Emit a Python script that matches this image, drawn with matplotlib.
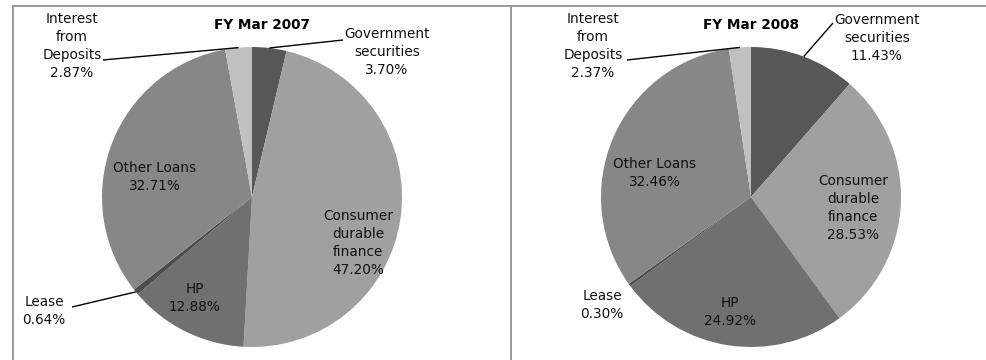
import numpy as np
import matplotlib
matplotlib.use("Agg")
import matplotlib.pyplot as plt
from matplotlib.lines import Line2D

# ---- data ----
categories = ["Government\nsecurities", "Consumer\ndurable\nfinance", "HP", "Lease",
              "Other Loans", "Interest\nfrom\nDeposits"]
titles = ["FY Mar 2007", "FY Mar 2008"]
values_2007 = [3.70, 47.20, 12.88, 0.64, 32.71, 2.87]
values_2008 = [11.43, 28.53, 24.92, 0.30, 32.46, 2.37]
colors = ["#575757", "#a0a0a0", "#707070", "#4d4d4d", "#878787", "#c0c0c0"]

W, H = 987, 360
fig = plt.figure(figsize=(W / 100, H / 100), dpi=100)
ax = fig.add_axes([0, 0, 1, 1])
ax.set_xlim(0, W)
ax.set_ylim(0, H)
ax.axis("off")

def Y(y):
    return H - y

FS = 9.8

# panel layout: center (px), radius, label positions (px), leader start (px or None)
panels = [
    dict(values=values_2007, title=titles[0], cx=252, cy=197, r=150, tx=262,
         labels=[(387, 52, (343, 40)), (358, 243, None), (195, 298, None),
                 (44, 311, (72, 307)), (155, 177, None), (72, 46, (103, 60))]),
    dict(values=values_2008, title=titles[1], cx=751, cy=197, r=150, tx=751,
         labels=[(877, 38, (833, 23)), (853, 208, None), (730, 312, None),
                 (602, 305, None), (655, 173, None), (593, 46, (627, 60))]),
]

for p in panels:
    wedges, _ = ax.pie(p["values"], colors=colors, startangle=90, counterclock=False,
                       center=(p["cx"], Y(p["cy"])), radius=p["r"],
                       wedgeprops=dict(linewidth=0), frame=True)
    ax.text(p["tx"], Y(25), p["title"], ha="center", va="center",
            fontsize=FS, fontweight="bold")
    for w, cat, val, (lx, ly, lead) in zip(wedges, categories, p["values"], p["labels"]):
        ax.text(lx, Y(ly), f"{cat}\n{val:.2f}%", ha="center", va="center",
                fontsize=FS, linespacing=1.34, color="#111111")
        if lead is not None:
            ang = np.deg2rad((w.theta1 + w.theta2) / 2)
            ex = p["cx"] + p["r"] * np.cos(ang)
            ey = Y(p["cy"]) + p["r"] * np.sin(ang)
            ax.plot([lead[0], ex], [Y(lead[1]), ey], color="black", lw=1.0,
                    solid_capstyle="butt")

ax.set_xlim(0, W)
ax.set_ylim(0, H)
ax.set_aspect("auto")
ax.axis("off")

# frame lines
fc = "#999999"
fig.add_artist(Line2D([13 / W, 1], [1 - 6 / H, 1 - 6 / H], color=fc, lw=1.4,
                      transform=fig.transFigure))
fig.add_artist(Line2D([13 / W, 13 / W], [0, 1 - 6 / H], color=fc, lw=1.4,
                      transform=fig.transFigure))
fig.add_artist(Line2D([511 / W, 511 / W], [0, 1 - 6 / H], color=fc, lw=1.4,
                      transform=fig.transFigure))

fig.savefig("out.png", dpi=100)
